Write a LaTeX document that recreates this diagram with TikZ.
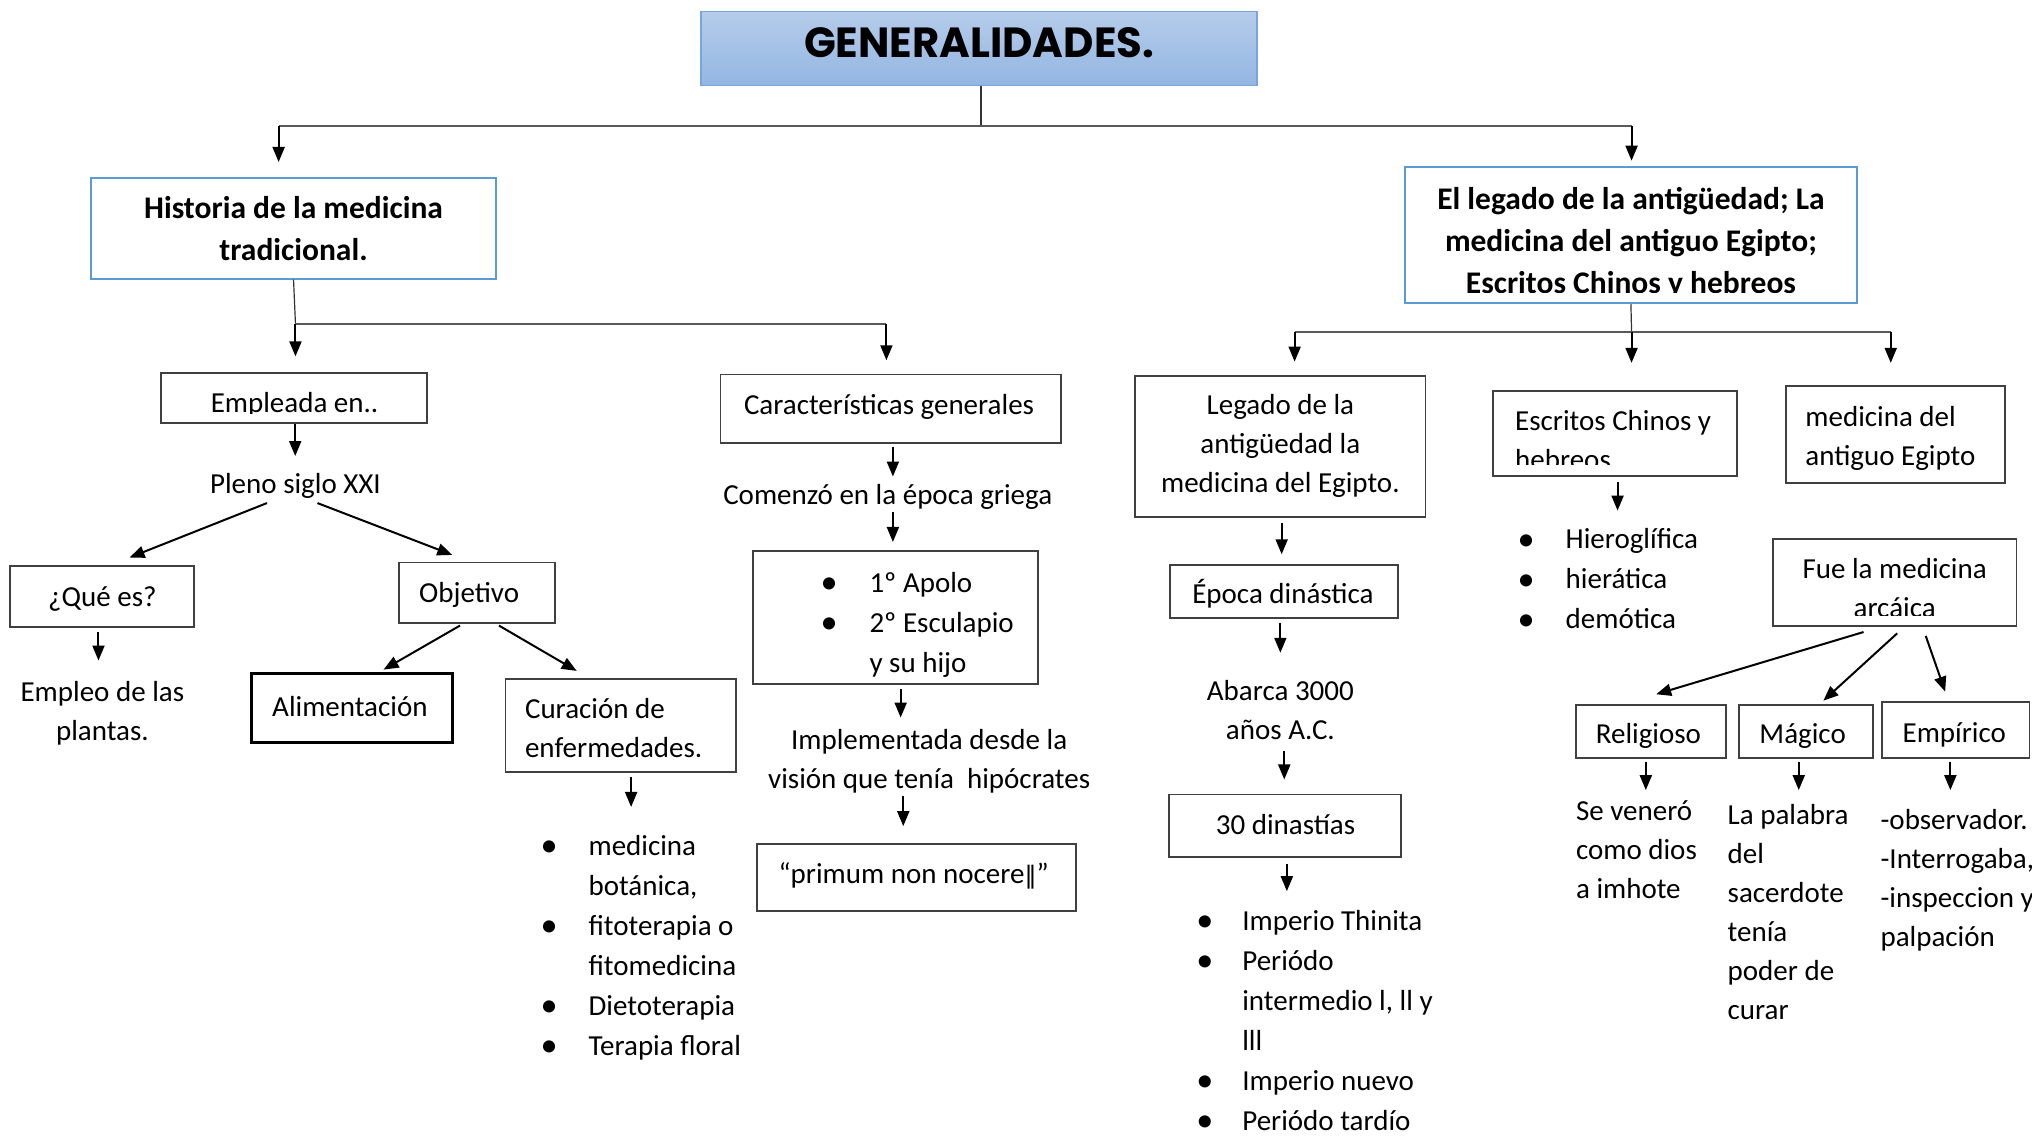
\documentclass[tikz,border=0pt]{standalone}
\usepackage{graphicx}
\usepackage{fontspec}
\setmainfont{Carlito}
\newfontfamily\titlefont{Poppins}
\newfontfamily\djv{DejaVu Sans}
\usetikzlibrary{arrows.meta}
\definecolor{bd}{HTML}{404040}
\definecolor{bl}{HTML}{5B9BD5}
\definecolor{tt}{HTML}{B5CCEA}
\definecolor{tbot}{HTML}{93B6E2}
\definecolor{tb}{HTML}{78A6DC}
\newcommand\blt[1]{\makebox[#1][l]{\raisebox{-1.5pt}{\scalebox{1.18}{•}}}}
\tikzset{
  box/.style 2 args={draw=bd, line width=1.8pt, minimum width=#1*1.2959pt, minimum height=#2*1.2959pt, inner sep=0pt},
  txt/.style={font=\fontsize{29}{39}\selectfont, inner sep=0pt, execute at begin node=\strut, execute at end node=\strut},
  lst/.style={font=\fontsize{29}{40}\selectfont, inner sep=0pt, align=left, anchor=west, execute at begin node=\strut, execute at end node=\strut},
  bld/.style={font=\bfseries\fontsize{31.5}{42}\selectfont, inner sep=0pt, execute at begin node=\strut, execute at end node=\strut},
  arr/.style={draw=black, line width=2pt, -{Triangle[length=15pt,width=12pt]}},
  bus/.style={draw=black!65, line width=1.8pt},
  stem/.style={draw=black!80, line width=1.2pt},
}
\begin{document}
\begin{tikzpicture}[x=1.2959pt,y=-1.2959pt]
\clip (0,0) rectangle (1568,876);
\fill[white] (0,0) rectangle (1568,876);

% ---------- title ----------
\node[box={429}{57}, draw=tb, top color=tt, bottom color=tbot, line width=1.5pt] (title) at (755.5,37.5) {};
\node[inner sep=0pt] (titlet) at (755.5,33) {\resizebox{350pt}{30pt}{\titlefont\bfseries GENERALIDADES.}};

% ---------- level 1 ----------
\node[box={313}{78}, draw=bl, line width=2pt] (hist) at (226.5,176) {};
\node[bld, align=center] (histt) at (226.5,181.5) {Historia de la medicina\\tradicional.};

\node[box={349}{105}, draw=bl, line width=2pt] (leg) at (1258.5,181.5) {};
\begin{scope}
\clip (1084,129) rectangle (1433,226);
\node[bld, align=center] (legt) at (1258.5,190.5) {El legado de la antigüedad; La\\medicina del antiguo Egipto;\\Escritos Chinos y hebreos};
\end{scope}

\coordinate (bL) at (215,97);
\coordinate (bR) at (1259,97);
\coordinate (tstem) at (757,97);
\draw[stem] (title.south -| tstem) -- (tstem);
\draw[bus] (bL) -- (bR);
\draw[arr] (bL) -- ++(0,28);
\draw[arr] (bR) -- ++(0,27);

% ---------- left branch ----------
\coordinate (hL) at (228,250);
\coordinate (hR) at (684,250);
\draw[stem] (hist.south) -- (hL);
\draw[bus] (hL) -- (hR);
\draw[arr] (hL) -- ++(0,25);
\draw[arr] (hR) -- ++(0,28);

\node[box={205.3}{38.6}] (empl) at (226.8,306.9) {};
\begin{scope}
\clip (124,288) rectangle (330,318.7);
\node[txt] (emplt) at (227.3,312) {Empleada en..};
\end{scope}
\draw[arr] (empl.south) ++(1,0) -- ++(0,25);

\node[txt] (pleno) at (228,375) {Pleno siglo XXI};
\draw[arr] (pleno.south) ++(-22,-2) -- ++(-106,42);
\draw[arr] (pleno.south) ++(17,-2) -- ++(104,40);

\node[box={142}{47}] (que) at (79,460.5) {};
\node[txt] (quet) at (79,462) {¿Qué es?};
\draw[arr] (que.south) ++(-3,3) -- ++(0,22);
\node[txt, align=center] (empleo) at (79,553) {Empleo de las\\plantas.};

\node[box={120}{47}] (obj) at (368,457.5) {};
\node[txt] (objt) at (362,459) {Objetivo};
\draw[arr] (obj.south) ++(-13,1) -- ++(-59,34);
\draw[arr] (obj.south) ++(17,1) -- ++(60,35);

\node[box={155}{53}, draw=black, line width=2.8pt] (alim) at (271.5,546.5) {};
\node[txt] (alimt) at (270,547) {Alimentación};

\node[box={178}{72}] (cur) at (479,560) {};
\node[txt, align=left, anchor=west] (curt) at (405,566) {Curación de\\enfermedades.};
\draw[arr] (cur.south) ++(8,3) -- ++(0,23);
\node[lst] (curl) at (417,734) {\blt{48pt}medicina\\\hspace*{48pt}botánica,\\\blt{48pt}fitoterapia o\\\hspace*{48pt}fitomedicina\\\blt{48pt}Dietoterapia\\\blt{48pt}Terapia floral};

% ---------- middle branch ----------
\node[box={263}{53}] (car) at (687.5,315.5) {};
\node[txt] (cart) at (686,314) {Características generales};
\draw[arr] (car.south) ++(1.5,2) -- ++(0,23);
\node[txt] (comenzo) at (685,383) {Comenzó en la época griega};
\draw[arr] (comenzo.south) ++(4,-3) -- ++(0,23);

\node[box={220}{103}] (apolo) at (691,476.5) {};
\node[lst] (apolot) at (633,484.6) {\blt{49pt}1º Apolo\\\blt{49pt}2º Esculapio\\\hspace*{49pt}y su hijo};
\draw[arr] (apolo.south) ++(4,3) -- ++(0,22);

\node[txt, align=center] (impl) at (717,590) {Implementada desde la\\visión que tenía~~hipócrates};
\draw[arr] (impl.south) ++(-20,-3) -- ++(0,23);

\node[box={246}{52}] (prim) at (707,677) {};
\node[txt] (primt) at (705,676) {“primum non nocere{\djv\fontsize{24}{30}\selectfont‖}”};

% ---------- right branch ----------
\coordinate (rL) at (999,256);
\coordinate (rM) at (1259,256);
\coordinate (rR) at (1459,256);
\draw[stem] (leg.south) -- (rM);
\draw[bus] (rL) -- (rR);
\draw[arr] (rL) -- ++(0,23);
\draw[arr] (rM) -- ++(0,24);
\draw[arr] (rR) -- ++(0,24);

\node[box={224}{109}] (legeg) at (988,344.5) {};
\node[txt, align=center] (legegt) at (988,346.6) {Legado de la\\antigüedad la\\medicina del Egipto.};
\draw[arr] (legeg.south) ++(1,4) -- ++(0,24);

\node[box={176}{41}] (epoca) at (991,456.5) {};
\node[txt] (epocat) at (990,460) {Época dinástica};
\draw[arr] (epoca.south) ++(-3,3) -- ++(0,23);

\node[txt, align=center] (abarca) at (988,552) {Abarca 3000\\años A.C.};
\draw[arr] (abarca.south) ++(3,0) -- ++(0,22);

\node[box={179}{48}] (dinast) at (991.5,637) {};
\node[txt] (dinastt) at (992,638) {30 dinastías};
\draw[arr] (dinast.south) ++(1.5,5) -- ++(0,21);
\node[lst] (dinl) at (923,792) {\blt{46pt}Imperio Thinita\\\blt{46pt}Periódo\\\hspace*{46pt}intermedio l, ll y\\\hspace*{46pt}lll\\\blt{46pt}Imperio nuevo\\\blt{46pt}Periódo tardío};

\node[box={188.4}{65.6}] (escr) at (1246.2,334.5) {};
\begin{scope}
\clip (1152,301) rectangle (1341,358.5);
\node[txt, align=left, anchor=west] (escrt) at (1169,344) {Escritos Chinos y\\hebreos};
\end{scope}
\draw[arr] (escr.south) ++(2,4) -- ++(0,22);
\node[lst] (escrl) at (1171,451) {\blt{48pt}Hieroglífica\\\blt{48pt}hierática\\\blt{48pt}demótica};

\node[box={169}{75}] (medeg) at (1462.5,335.5) {};
\node[txt, align=left, anchor=west] (medegt) at (1393,341) {medicina del\\antiguo Egipto};

\node[box={188}{67}] (fue) at (1462,449.5) {};
\begin{scope}
\clip (1368,416) rectangle (1556,475.3);
\node[txt, align=center] (fuet) at (1462,458) {Fue la medicina\\arcáica};
\end{scope}
\draw[arr] (fue.south) ++(-24,4) -- ++(-160,48);
\draw[arr] (fue.south) ++(2,5) -- ++(-57,52);
\draw[arr] (fue.south) ++(24,7) -- ++(15,43);

\node[box={116}{41}] (relig) at (1274,564.5) {};
\node[txt] (religt) at (1272,568) {Religioso};
\node[box={103}{41}] (magico) at (1393.5,564.5) {};
\node[txt] (magicot) at (1391,568) {Mágico};
\node[box={114}{43}] (empir) at (1509,563.5) {};
\node[txt] (empirt) at (1508,567) {Empírico};
\draw[arr] (relig.south) ++(-4,2) -- ++(0,22);
\draw[arr] (magico.south) ++(-5.5,2) -- ++(0,22);
\draw[arr] (empir.south) ++(-4,2) -- ++(0,22);

\node[txt, align=left, anchor=west] (religl) at (1216,660) {Se veneró\\como dios\\a imhote};
\node[txt, align=left, anchor=west] (magicol) at (1333,708) {La palabra\\del\\sacerdote\\tenía\\poder de\\curar};
\node[txt, align=left, anchor=west] (empirl) at (1451,682) {-observador.\\-Interrogaba,\\-inspeccion y\\palpación};
\end{tikzpicture}
\end{document}
